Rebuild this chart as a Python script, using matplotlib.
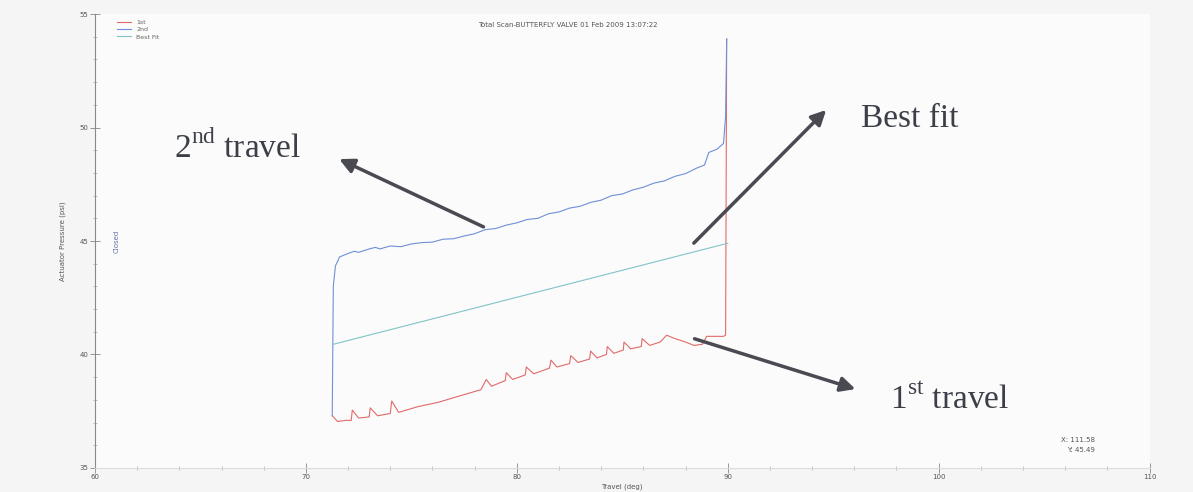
import numpy as np
import matplotlib
matplotlib.use('Agg')
from matplotlib import pyplot as plt

plt.rcParams['mathtext.fontset'] = 'custom'
plt.rcParams['mathtext.rm'] = 'Liberation Serif'

# 1st travel (red)
travel1_x = [71.25, 71.5, 71.9, 72.15, 72.2, 72.5, 73.0, 73.05, 73.4, 74.0, 74.07, 74.4,
             75.3, 76.3, 77.2, 78.3, 78.55, 78.8, 79.45, 79.5, 79.8, 80.4, 80.45, 80.8,
             81.55, 81.62, 81.9, 82.5, 82.56, 82.9, 83.45, 83.5, 83.8, 84.25, 84.29, 84.6,
             85.05, 85.08, 85.4, 85.9, 85.94, 86.3, 86.8, 87.1, 87.5, 88.0, 88.4, 88.8,
             89.0, 89.8, 89.9, 89.95]
travel1_y = [37.3, 37.05, 37.1, 37.1, 37.55, 37.2, 37.25, 37.65, 37.3, 37.4, 37.95, 37.45,
             37.7, 37.9, 38.15, 38.45, 38.9, 38.6, 38.85, 39.2, 38.9, 39.1, 39.45, 39.15,
             39.4, 39.75, 39.45, 39.6, 39.95, 39.65, 39.8, 40.15, 39.85, 40.0, 40.35, 40.05,
             40.2, 40.55, 40.25, 40.35, 40.7, 40.4, 40.55, 40.85, 40.7, 40.55, 40.4, 40.45,
             40.8, 40.8, 40.85, 53.9]

# 2nd travel (blue)
travel2_x = [71.25, 71.3, 71.4, 71.6, 72.0, 72.3, 72.5, 73.0, 73.3, 73.5, 74.0, 74.5,
             75.0, 75.5, 76.0, 76.5, 77.0, 77.5, 78.0, 78.5, 79.0, 79.5, 80.0, 80.5,
             81.0, 81.5, 82.0, 82.5, 83.0, 83.5, 84.0, 84.5, 85.0, 85.5, 86.0, 86.5,
             87.0, 87.5, 88.0, 88.5, 88.9, 89.1, 89.5, 89.8, 89.9, 89.95]
travel2_y = [37.3, 43.0, 43.9, 44.3, 44.45, 44.55, 44.5, 44.65, 44.72, 44.65, 44.78, 44.75,
             44.87, 44.93, 44.95, 45.08, 45.1, 45.22, 45.32, 45.5, 45.55, 45.7, 45.8, 45.95,
             46.0, 46.2, 46.28, 46.45, 46.53, 46.7, 46.8, 47.0, 47.07, 47.25, 47.37, 47.55,
             47.65, 47.85, 47.97, 48.2, 48.35, 48.9, 49.05, 49.3, 50.5, 53.9]

# best fit line
fit_x = [71.3, 90.0]
fit_y = [40.45, 44.9]

fig = plt.figure(figsize=(11.93, 4.92), dpi=100, facecolor='#f5f5f5')
ax = fig.add_axes([0.0796, 0.0488, 0.884, 0.9227], facecolor='#fbfbfb')

ax.plot(travel1_x, travel1_y, color='#e06a6a', lw=0.8, label='1st')
ax.plot(travel2_x, travel2_y, color='#6f8fd8', lw=0.8, label='2nd')
ax.plot(fit_x, fit_y, color='#80c4c8', lw=0.8, label='Best Fit')

ax.set_xlim(60, 110)
ax.set_ylim(35, 55)
ax.set_xticks(np.arange(60, 111, 10))
ax.set_xticks(np.arange(60, 111, 2), minor=True)
ax.set_yticks(np.arange(35, 56, 5))
ax.set_yticks(np.arange(35, 56, 1), minor=True)
ax.tick_params(which='major', direction='inout', length=7, width=0.6, color='#888888',
               labelsize=5, labelcolor='#555555', pad=1)
ax.tick_params(which='minor', direction='inout', length=3, width=0.5, color='#aaaaaa')

for s in ['top', 'right']:
    ax.spines[s].set_visible(False)
ax.spines['left'].set_color('#8a8a8a')
ax.spines['bottom'].set_color('#dddddd')

ax.set_xlabel('Travel (deg)', fontsize=5, color='#555555', labelpad=2)
ax.set_ylabel('Actuator Pressure (psi)', fontsize=5, color='#555555', labelpad=10)

ax.text(0.448, 0.976, 'Total Scan-BUTTERFLY VALVE 01 Feb 2009 13:07:22',
        transform=ax.transAxes, fontsize=5, color='#555555', ha='center', va='center')
ax.text(0.021, 0.5, 'Closed', transform=ax.transAxes, fontsize=5, color='#6670a8',
        rotation=90, ha='center', va='center')
ax.text(0.948, 0.062, 'X: 111.58', transform=ax.transAxes, fontsize=5,
        color='#555555', ha='right', va='center')
ax.text(0.948, 0.040, 'Y: 45.49', transform=ax.transAxes, fontsize=5,
        color='#555555', ha='right', va='center')

ax.legend(loc='upper left', bbox_to_anchor=(0.016, 1.0), fontsize=4.5, frameon=False,
          handlelength=2.2, labelspacing=0.3, labelcolor='#666666')

arrow = dict(arrowstyle='-|>', color='#4a4a52', lw=2.5, mutation_scale=22)
ax.annotate('', xy=(71.46, 48.66), xytext=(78.54, 45.57), arrowprops=arrow)
ax.annotate('', xy=(94.76, 50.86), xytext=(88.3, 44.82), arrowprops=arrow)
ax.annotate('', xy=(96.18, 38.44), xytext=(88.3, 40.73), arrowprops=arrow)

big = dict(fontsize=24, family='Liberation Serif', color='#3c3f48', va='center', ha='left')
ax.text(63.75, 49.1, '2$^{\\mathrm{nd}}$ travel', **big)
ax.text(96.3, 50.4, 'Best fit', **big)
ax.text(97.7, 38.0, '1$^{\\mathrm{st}}$ travel', **big)

fig.savefig('out.png', dpi=100, facecolor=fig.get_facecolor())
